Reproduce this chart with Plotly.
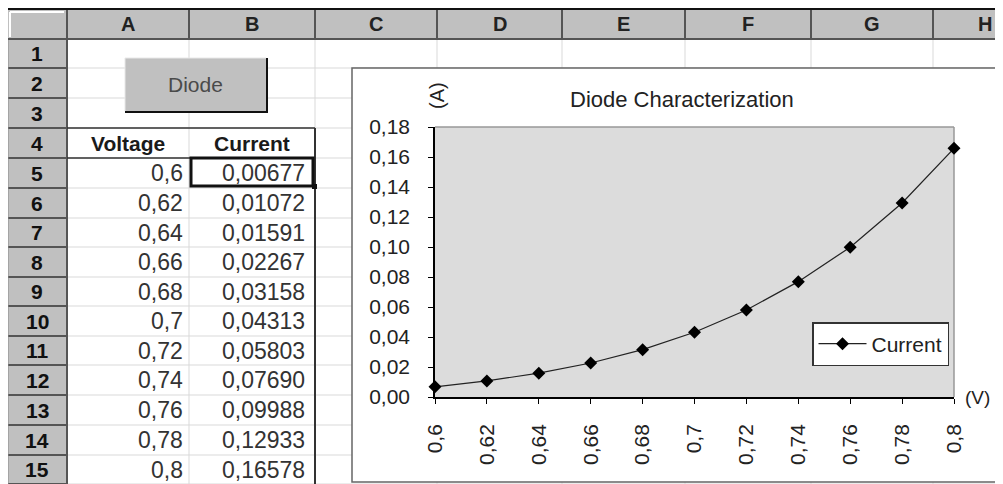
import plotly.graph_objects as go

# sheet content
column_letters = ["A", "B", "C", "D", "E", "F", "G", "H"]
row_numbers = [str(i) for i in range(1, 16)]
voltage = [0.6, 0.62, 0.64, 0.66, 0.68, 0.7, 0.72, 0.74, 0.76, 0.78, 0.8]
current = [0.00677, 0.01072, 0.01591, 0.02267, 0.03158, 0.04313,
           0.05803, 0.07690, 0.09988, 0.12933, 0.16578]
voltage_text = ["0,6", "0,62", "0,64", "0,66", "0,68", "0,7",
                "0,72", "0,74", "0,76", "0,78", "0,8"]
current_text = ["0,00677", "0,01072", "0,01591", "0,02267", "0,03158", "0,04313",
                "0,05803", "0,07690", "0,09988", "0,12933", "0,16578"]

# the page body adds an 8px margin, so the figure is made 8px smaller
# and all window pixel positions are shifted by it
OFF = 8
W, H = 1003 - OFF, 484 - OFF
FONT = "Liberation Sans, Arial, sans-serif"

# pixel edges of the sheet grid (window pixels)
col_edges = [67, 189, 315, 437, 562, 685, 811, 933, 1057]
row_edges = [40, 68, 98, 128, 158, 188, 218, 247, 277, 306, 336, 365, 395, 425, 455, 484]

shapes = []
annotations = []


def X(px):
    return (px - OFF) / W


def Y(py):
    return 1 - (py - OFF) / H


def rect(x0, y0, x1, y1, fill="rgba(0,0,0,0)", line=None, width=1):
    shapes.append(dict(
        type="rect", xref="paper", yref="paper", layer="below",
        x0=X(x0), x1=X(x1), y0=Y(y1), y1=Y(y0), fillcolor=fill,
        line=dict(color=line or "rgba(0,0,0,0)", width=width if line else 0),
    ))


def seg(x0, y0, x1, y1, color, width=1):
    shapes.append(dict(
        type="line", xref="paper", yref="paper", layer="below",
        x0=X(x0), x1=X(x1), y0=Y(y0), y1=Y(y1),
        line=dict(color=color, width=width),
    ))


def text(x, y, s, size=22, anchor="center", color="#1a1a1a", bold=False, angle=0):
    annotations.append(dict(
        xref="paper", yref="paper", x=X(x), y=Y(y), text=f"<b>{s}</b>" if bold else s,
        showarrow=False, xanchor=anchor, yanchor="middle", textangle=angle,
        font=dict(family=FONT, size=size, color=color),
    ))


# cell gridlines
GRID = "#d9d9d9"
for x in col_edges[1:]:
    seg(x, 40, x, 484, GRID, 1)
for y in row_edges[1:]:
    seg(67, y, 1003, y, GRID, 1)

# column header band
rect(8, 8, 1003, 10, fill="#111111")
rect(8, 10, 1003, 40, fill="#c0c0c0")
seg(8, 39, 1003, 39, "#555555", 2)
for x in col_edges:
    seg(x, 10, x, 40, "#555555", 2)
seg(10, 12, 64, 12, "white", 2)
seg(10, 12, 10, 37, "white", 2)

# row header column
rect(8, 40, 67, 484, fill="#c0c0c0")
for y in row_edges[1:]:
    seg(8, y, 67, y, "#555555", 2)
seg(8, 40, 8, 484, "#888888", 1)
seg(67, 40, 67, 484, "#555555", 2)

# table borders
seg(67, 128, 315, 128, "#333333", 1.5)
seg(67, 158, 315, 158, "#333333", 1.5)
seg(315, 128, 315, 484, "#333333", 2)

# active cell B5
rect(191, 158, 313, 186, line="#111111", width=3)
rect(312, 184, 317, 189, fill="#111111")

# button
rect(125, 58, 267, 112, fill="#c0c0c0")
seg(125, 112, 268, 112, "#111111", 2)
seg(267, 58, 267, 113, "#111111", 2)
seg(125, 58, 266, 58, "#e8e8e8", 1)
seg(125, 58, 125, 111, "#e8e8e8", 1)

# chart object and plot area
rect(352, 68, 1010, 482, fill="white", line="#666666", width=1.5)
rect(435, 127, 954, 397, fill="#dcdcdc")
seg(435, 127, 954, 127, "#999999", 1.5)
seg(954, 127, 954, 397, "#999999", 1.5)

# texts: headers (H column is cut by the window, so its letter sits left of centre)
centers = [(col_edges[i] + col_edges[i + 1]) / 2 for i in range(len(column_letters) - 1)] + [985]
for c, letter in zip(centers, column_letters):
    text(c, 24, letter, size=20, bold=True, color="#222222")
for i, n in enumerate(row_numbers):
    text(37, (row_edges[i] + row_edges[i + 1]) / 2, n, size=21, bold=True, color="#111111")

# texts: cells
text(195, 85, "Diode", size=21, color="#4a4a4a")
text(128, 143, "Voltage", size=21, bold=True)
text(252, 143, "Current", size=21, bold=True)
for i in range(len(voltage)):
    yc = (row_edges[i + 4] + row_edges[i + 5]) / 2
    text(185, yc, voltage_text[i], size=23, anchor="right", color="#333333")
    text(307, yc, current_text[i], size=23, anchor="right", color="#333333")

# chart texts
text(682, 99, "Diode Characterization", size=22, color="#222222")
text(437, 96, "(A)", size=20, angle=-90, color="#222222")
text(992, 397, "(V)", size=19, anchor="right", color="#222222")

fig = go.Figure()
fig.add_trace(go.Scatter(
    x=voltage, y=current, name="Current", mode="lines+markers",
    line=dict(color="#222222", width=1.2),
    marker=dict(symbol="diamond", size=10, color="black"),
    cliponaxis=False,
))

fig.update_layout(
    width=W, height=H,
    margin=dict(l=0, r=0, t=0, b=0, autoexpand=False),
    paper_bgcolor="white",
    plot_bgcolor="rgba(0,0,0,0)",
    separators=",.",
    font=dict(family=FONT, size=20, color="#222222"),
    shapes=shapes,
    annotations=annotations,
    showlegend=True,
    legend=dict(
        x=X(949), xanchor="right", y=Y(322), yanchor="top",
        bgcolor="white", bordercolor="#333333", borderwidth=1.5,
        font=dict(size=21), itemwidth=48,
    ),
    xaxis=dict(
        domain=[X(435), X(954)], range=[0.6, 0.8],
        tickmode="array", tickvals=voltage, ticktext=voltage_text,
        tickangle=-90, ticks="outside", ticklen=5, tickcolor="black",
        showline=True, linecolor="black", linewidth=1.5,
        showgrid=False, zeroline=False, ticklabelstandoff=12,
        tickfont=dict(size=21, color="#222222"), automargin=False,
    ),
    yaxis=dict(
        domain=[Y(397), Y(127)], range=[0, 0.18], dtick=0.02, tickformat=".2f",
        ticks="outside", ticklen=5, tickcolor="black",
        showline=True, linecolor="black", linewidth=1.5,
        showgrid=False, zeroline=False, ticklabelstandoff=14,
        tickfont=dict(size=21, color="#222222"), automargin=False,
    ),
)

fig.write_html("out.html")
